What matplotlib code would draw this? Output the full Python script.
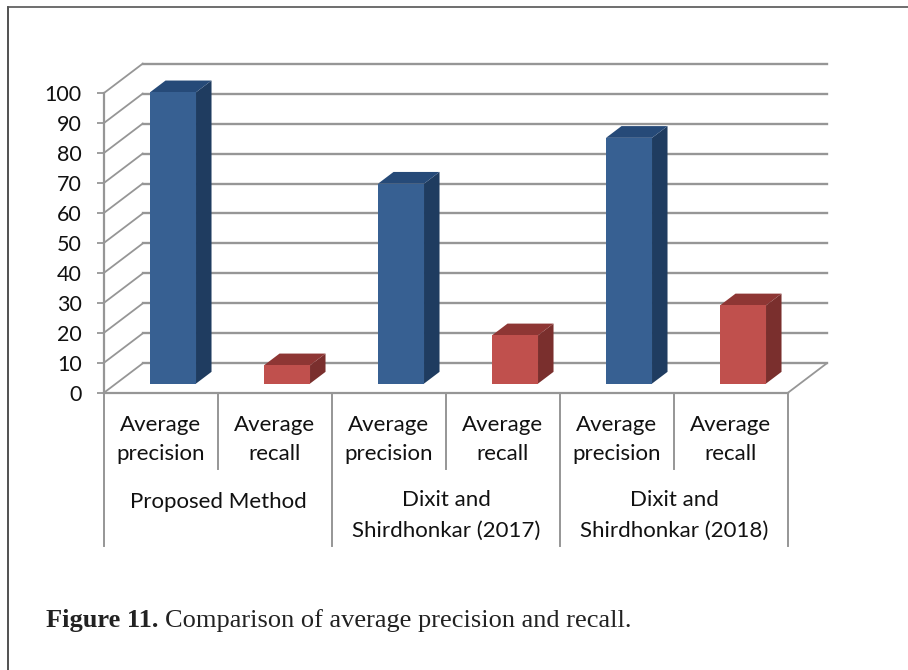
import matplotlib
matplotlib.use("Agg")
import matplotlib.pyplot as plt
from matplotlib.lines import Line2D
from matplotlib.patches import Polygon
import numpy as np

metrics = ["Average\nprecision", "Average\nrecall"] * 3
methods = ["Proposed Method", "Dixit and\nShirdhonkar (2017)", "Dixit and\nShirdhonkar (2018)"]
values = [97.2, 6.1, 66.7, 16.1, 82.0, 26.1]
yticks = list(range(0, 101, 10))
caption_bold = "Figure 11."
caption_rest = "Comparison of average precision and recall."

W, H = 908, 670
GREY = "#969696"
FRONT = ["#376092", "#c0504d"]
TOP = ["#264a78", "#8e3634"]
SIDE = ["#1f3c60", "#7a2f2d"]

# depth of the fake 3d box, in data units
DX = 0.34
DY = 9.8
BAR_W = 46 / 114
BAR_D0 = 0.31
BAR_D1 = 0.71

plt.rcParams["font.family"] = ["Lato", "DejaVu Sans"]

fig = plt.figure(figsize=(W / 100, H / 100), dpi=100)
ax = fig.add_axes([104 / W, 1 - 392.7 / H, 684 / W, 299.7 / H])
ax.set_xlim(0, 6)
ax.set_ylim(0, 100)
ax.patch.set_alpha(0)
for s in ax.spines.values():
    s.set_visible(False)

# walls
for v in yticks:
    ax.plot([DX, 6 + DX], [v + DY, v + DY], color=GREY, lw=1.7, clip_on=False, zorder=1)
    ax.plot([0, DX], [v, v + DY], color=GREY, lw=1.3, clip_on=False, zorder=1)
ax.plot([6, 6 + DX], [0, DY], color=GREY, lw=1.3, clip_on=False, zorder=1)
ax.plot([0, 0], [0, 100], color=GREY, lw=1.6, clip_on=False, zorder=2)
ax.plot([0, 6], [0, 0], color=GREY, lw=1.6, clip_on=False, zorder=2)

ax.set_yticks(yticks)
ax.set_xticks([])
ax.tick_params(axis="y", length=5, width=1.3, color=GREY, labelsize=15.5, pad=11, labelcolor="#111111")

# bars
for i, v in enumerate(values):
    k = i % 2
    x0 = i + 0.5 - BAR_W / 2 + BAR_D0 * DX
    x1 = x0 + BAR_W
    y0 = BAR_D0 * DY
    y1 = y0 + v
    ddx = (BAR_D1 - BAR_D0) * DX
    ddy = (BAR_D1 - BAR_D0) * DY
    ax.add_patch(Polygon([(x1, y0), (x1 + ddx, y0 + ddy), (x1 + ddx, y1 + ddy), (x1, y1)],
                         fc=SIDE[k], ec="none", zorder=3, clip_on=False))
    ax.add_patch(Polygon([(x0, y1), (x1, y1), (x1 + ddx, y1 + ddy), (x0 + ddx, y1 + ddy)],
                         fc=TOP[k], ec="none", zorder=3, clip_on=False))
    ax.bar(x0, v, width=BAR_W, bottom=y0, align="edge", color=FRONT[k], zorder=4, clip_on=False)

# multi level category axis
for i in range(7):
    low = -51.2 if i % 2 == 0 else -25.4
    ax.plot([i, i], [0, low], color=GREY, lw=1.4, clip_on=False, zorder=2)

for i, name in enumerate(metrics):
    ax.text(i + 0.5, -15.6, name, ha="center", va="center", fontsize=16,
            linespacing=1.55, color="#111111")
for i, name in enumerate(methods):
    ax.text(2 * i + 1, -41.0 if "\n" in name else -36.4, name, ha="center", va="center",
            fontsize=16, linespacing=1.68, color="#111111")

# page frame and caption
fig.add_artist(Line2D([8 / W, 8 / W], [0, 1 - 7 / H], color="#333333", lw=1.2))
fig.add_artist(Line2D([8 / W, 1], [1 - 7 / H, 1 - 7 / H], color="#555555", lw=1.2))
t = fig.text(46 / W, 1 - 627 / H, caption_bold + " ", fontsize=19, fontweight="bold",
             family="Liberation Serif", color="#222222")
fig.canvas.draw()
bb = t.get_window_extent()
fig.text(bb.x1 / W, 1 - 627 / H, caption_rest, fontsize=19,
         family="Liberation Serif", color="#222222")

fig.savefig("out.png", dpi=100)
